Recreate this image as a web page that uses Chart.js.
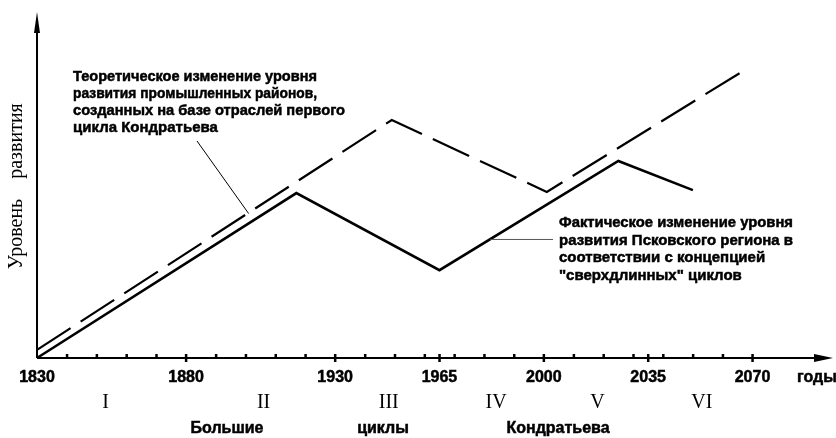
<!DOCTYPE html>
<html lang="ru">

<head>
    <meta charset="UTF-8">
    <title>Большие циклы Кондратьева</title>
    <script src="https://cdn.jsdelivr.net/npm/chart.js"></script>
    <style>
        body { margin: 0; background: #fff; }
        canvas { display: block; }
    </style>
</head>

<body>
    <canvas id="cycleChart" width="836" height="438"></canvas>

    <script>
        // theoretical line (dashed) and actual Pskov line (solid), level in arbitrary units
        const theoryYears = [1830, 1949, 2001, 2069];
        const theoryLevel = [2.7, 79.1, 55.2, 96.7];
        const actualYears = [1830, 1917, 1965, 2025, 2050];
        const actualLevel = [0, 54.8, 29.2, 65.5, 55.8];

        const tickYears = [1830, 1880, 1930, 1965, 2000, 2035, 2070];
        const minorTickYears = [1840, 1850, 1860, 1870, 1890, 1900, 1910, 1920, 1940, 1950, 1960, 1970,
            1980, 1990, 2010, 2020, 2030, 2040, 2050, 2060];
        const cycleLabels = ['I', 'II', 'III', 'IV', 'V', 'VI'];
        const cycleYears = [1853, 1906, 1948, 1984, 2018, 2053];

        const theoryNote = ['Теоретическое изменение уровня', 'развития промышленных районов,',
            'созданных на базе отраслей первого', 'цикла Кондратьева'];
        const actualNote = ['Фактическое изменение уровня', 'развития Псковского региона в',
            'соответствии с концепцией', '"сверхдлинных" циклов'];

        const sans = '"Liberation Sans", Arial, sans-serif';
        const serif = '"Liberation Serif", "Times New Roman", serif';

        function toPoints(xs, ys) {
            return xs.map((x, i) => ({ x: x, y: ys[i] }));
        }

        // bold text a little heavier, like the scanned original
        function heavyText(ctx, t, x, y, maxW) {
            ctx.fillText(t, x, y, maxW);
            ctx.strokeText(t, x, y, maxW);
        }

        // axes with arrows and tick marks
        const axesPlugin = {
            id: 'axes',
            beforeDatasetsDraw(chart) {
                const ctx = chart.ctx;
                const xs = chart.scales.x, ys = chart.scales.y, area = chart.chartArea;
                const x0 = xs.getPixelForValue(1830), y0 = ys.getPixelForValue(0);
                ctx.save();
                ctx.strokeStyle = '#000';
                ctx.fillStyle = '#000';
                ctx.lineWidth = 2;
                ctx.beginPath();
                ctx.moveTo(x0, y0);
                ctx.lineTo(x0, area.top + 16);
                ctx.moveTo(x0, y0);
                ctx.lineTo(area.right - 14, y0);
                ctx.stroke();
                // arrow heads
                ctx.beginPath();
                ctx.moveTo(x0, area.top);
                ctx.lineTo(x0 - 3, area.top + 21);
                ctx.lineTo(x0 + 3, area.top + 21);
                ctx.closePath();
                ctx.fill();
                ctx.beginPath();
                ctx.moveTo(area.right, y0);
                ctx.lineTo(area.right - 19, y0 - 4);
                ctx.lineTo(area.right - 19, y0 + 4);
                ctx.closePath();
                ctx.fill();
                // ticks
                minorTickYears.forEach(yr => {
                    const px = xs.getPixelForValue(yr);
                    ctx.fillRect(px - 1, y0 - 4, 2.5, 4);
                });
                tickYears.slice(1).forEach(yr => {
                    const px = xs.getPixelForValue(yr);
                    ctx.fillRect(px - 1.2, y0 - 4, 2.5, 8);
                });
                ctx.restore();
            },
            afterDatasetsDraw(chart) {
                const ctx = chart.ctx;
                const xs = chart.scales.x, ys = chart.scales.y;
                const y0 = ys.getPixelForValue(0);
                ctx.save();
                ctx.fillStyle = '#000';
                ctx.strokeStyle = '#000';
                ctx.lineWidth = 0.5;
                ctx.textBaseline = 'alphabetic';

                // year labels
                ctx.font = 'bold 16px ' + sans;
                ctx.textAlign = 'center';
                tickYears.forEach(yr => heavyText(ctx, String(yr), xs.getPixelForValue(yr), y0 + 24));
                ctx.textAlign = 'left';
                heavyText(ctx, 'годы', 797, y0 + 24);

                // cycle numbers
                ctx.font = '20px ' + serif;
                ctx.textAlign = 'center';
                cycleLabels.forEach((t, i) => ctx.fillText(t, xs.getPixelForValue(cycleYears[i]), y0 + 50));

                ctx.font = 'bold 16px ' + sans;
                heavyText(ctx, 'Большие', 227, y0 + 75);
                heavyText(ctx, 'циклы', 383, y0 + 75);
                heavyText(ctx, 'Кондратьева', 558, y0 + 75);

                // y axis title
                ctx.save();
                ctx.translate(17, 0);
                ctx.rotate(-Math.PI / 2);
                ctx.font = '20px ' + serif;
                ctx.textBaseline = 'middle';
                ctx.fillText('Уровень', -234, 0);
                ctx.fillText('развития', -141, 0);
                ctx.restore();

                // notes
                ctx.font = 'bold 15px ' + sans;
                ctx.textAlign = 'left';
                theoryNote.forEach((t, i) => heavyText(ctx, t, 73, 81 + i * 17, i === 2 ? 272 : 244));
                actualNote.forEach((t, i) => heavyText(ctx, t, 559, 227 + i * 17.5, 234));

                // leader lines
                ctx.lineWidth = 1;
                ctx.beginPath();
                ctx.moveTo(197, 141);
                ctx.lineTo(xs.getPixelForValue(1901), ys.getPixelForValue(48));
                ctx.stroke();
                ctx.strokeStyle = '#555';
                ctx.beginPath();
                ctx.moveTo(xs.getPixelForValue(1982), ys.getPixelForValue(39.4));
                ctx.lineTo(553, ys.getPixelForValue(39.4));
                ctx.stroke();
                ctx.restore();
            }
        };

        const ctx = document.getElementById('cycleChart').getContext('2d');
        new Chart(ctx, {
            type: 'line',
            data: {
                datasets: [{
                    label: 'Теоретическое изменение',
                    data: toPoints(theoryYears, theoryLevel),
                    borderColor: '#000',
                    borderWidth: 2.2,
                    borderDash: [40, 12],
                    pointRadius: 0,
                    tension: 0,
                    clip: false
                }, {
                    label: 'Фактическое изменение',
                    data: toPoints(actualYears, actualLevel),
                    borderColor: '#000',
                    borderWidth: 2.6,
                    pointRadius: 0,
                    tension: 0,
                    clip: false
                }]
            },
            options: {
                responsive: false,
                animation: false,
                layout: { padding: { left: 37, right: 3, top: 12, bottom: 80 } },
                scales: {
                    x: { type: 'linear', min: 1830, max: 2097, display: false },
                    y: { min: 0, max: 115, display: false }
                },
                plugins: {
                    legend: { display: false },
                    tooltip: { enabled: false }
                }
            },
            plugins: [axesPlugin]
        });
    </script>
</body>

</html>
